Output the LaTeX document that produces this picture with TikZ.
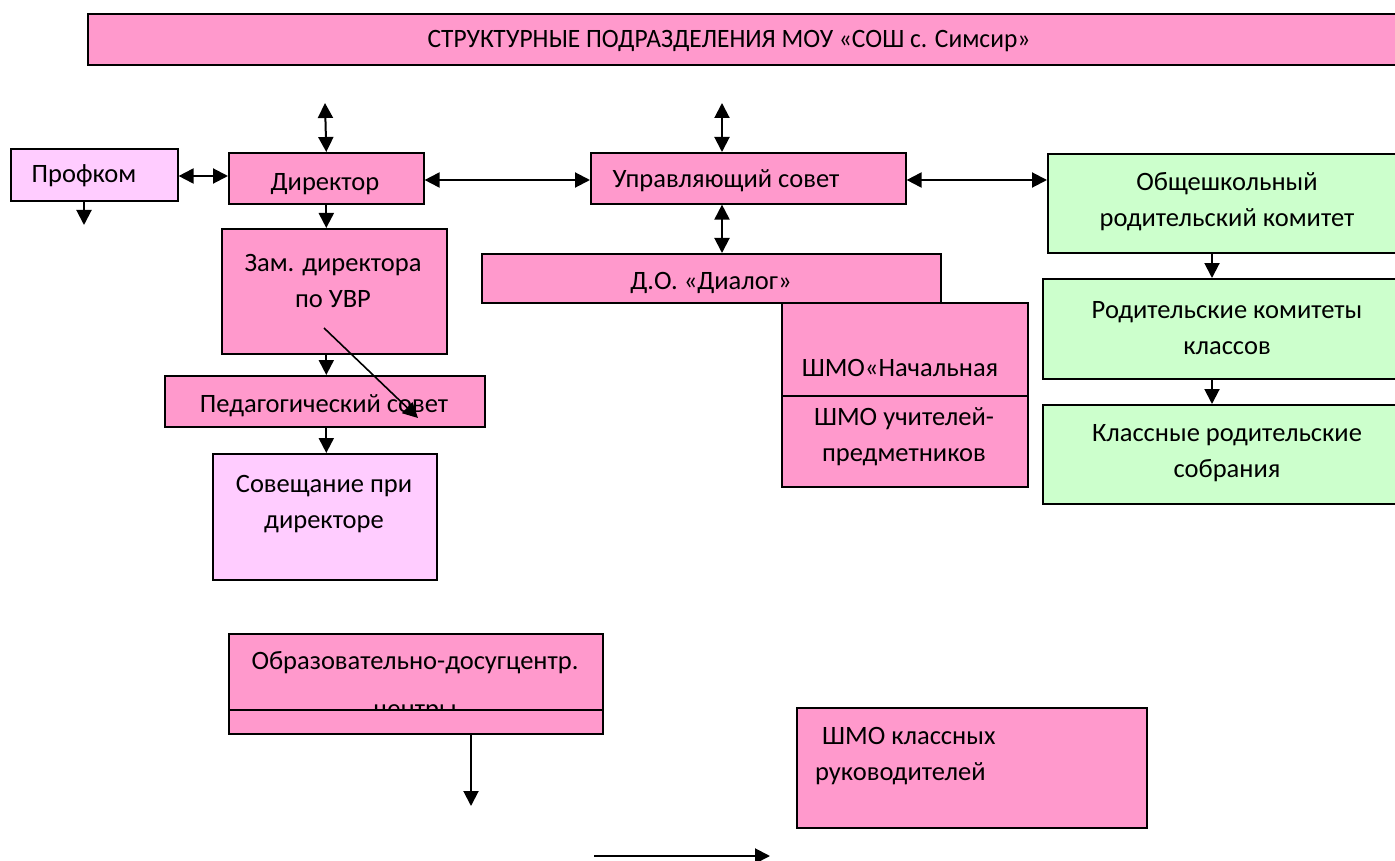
\documentclass[tikz,border=0pt]{standalone}
\usepackage{fontspec}
\setmainfont{Carlito}
\usetikzlibrary{arrows.meta}
\definecolor{pinkf}{HTML}{FF99CC}
\definecolor{lpinkf}{HTML}{FFCCFF}
\definecolor{greenf}{HTML}{CCFFCC}
\tikzset{
  box/.style={draw=black, line width=1.6pt, inner sep=0pt, anchor=north west},
  pbox/.style={box, fill=pinkf},
  lbox/.style={box, fill=lpinkf},
  gbox/.style={box, fill=greenf},
  txt/.style={inner sep=0pt, font=\fontsize{26.5}{36}\selectfont, align=center},
  conn/.style={line width=2pt, -{Triangle[length=15pt,width=15pt]}},
  dconn/.style={line width=2pt, {Triangle[length=15pt,width=15pt]}-{Triangle[length=15pt,width=15pt]}},
}
\begin{document}
\begin{tikzpicture}[x=1pt,y=-1pt]
\useasboundingbox (0,0) rectangle (1395,861);
\begin{scope}
\clip (0,0) rectangle (1395,861);
% title
\node[pbox, minimum width=1320pt, minimum height=51pt] (title) at (87,13) {};
\node[txt] (title-t) at (729,41) {\scalebox{0.96}[1]{СТРУКТУРНЫЕ ПОДРАЗДЕЛЕНИЯ МОУ «СОШ с. Симсир»}};
% left column
\node[lbox, minimum width=167pt, minimum height=52pt] (prof) at (10,148) {};
\node[txt] (prof-t) at (84,176) {Профком};
\node[pbox, minimum width=195pt, minimum height=51pt] (dir) at (228,152) {};
\node[txt] (dir-t) at (325,184) {Директор};
\node[pbox, minimum width=225pt, minimum height=125pt] (zam) at (221,228) {};
\node[txt] (zam-t) at (333,281) {Зам. директора\\по УВР};
\node[pbox, minimum width=320pt, minimum height=51pt] (ped) at (164,375) {};
\node[txt] (ped-t) at (324,406) {Педагогический совет};
\node[lbox, minimum width=224pt, minimum height=126pt] (sov) at (212,453) {};
\node[txt] (sov-t) at (324,504) {Совещание при\\директоре};
% middle
\node[pbox, minimum width=315pt, minimum height=51pt] (upr) at (590,152) {};
\node[txt] (upr-t) at (726,181) {Управляющий совет};
\node[pbox, minimum width=459pt, minimum height=49pt] (dlg) at (481,253) {};
\node[txt] (dlg-t) at (711,283) {Д.О. «Диалог»};
\node[pbox, minimum width=246pt, minimum height=93pt] (nach) at (781,302) {};
\node[txt] (nach-t) at (900,368) {ШМО«Начальная};
\node[pbox, minimum width=246pt, minimum height=91pt] (ucht) at (781,395) {};
\node[txt] (ucht-t) at (904,437) {ШМО учителей-\\предметников};
% right column
\node[gbox, minimum width=360pt, minimum height=99pt] (obsh) at (1047,153) {};
\node[txt] (obsh-t) at (1227,202) {Общешкольный\\родительский комитет};
\node[gbox, minimum width=365pt, minimum height=100pt] (rodk) at (1042,278) {};
\node[txt] (rodk-t) at (1227,328) {Родительские комитеты\\классов};
\node[gbox, minimum width=365pt, minimum height=99pt] (klas) at (1042,404) {};
\node[txt] (klas-t) at (1227,453) {Классные родительские\\собрания};
% bottom
\node[pbox, minimum width=374pt, minimum height=100pt] (obr) at (228,633) {};
\node[txt] (obr-t) at (415,663) {Образовательно-досугцентр.};
\node[txt] (obr-t2) at (415,713) {центры};
\node[pbox, minimum width=374pt, minimum height=24pt] (obr2) at (228,709) {};
\node[pbox, minimum width=350pt, minimum height=120pt] (kruk) at (796,707) {};
\node[txt, align=left, anchor=west] (kruk-t) at (815,756) {\hspace{7pt}ШМО классных\\руководителей};
% free ends
\coordinate (dirup) at (325,103);
\coordinate (uprup) at (722,103);
\coordinate (profdn) at (84,225);
\coordinate (diagA) at (324,328);
\coordinate (diagB) at (418,418);
\coordinate (obrdn) at (471,806);
\coordinate (hA) at (594,856);
\coordinate (hB) at (770,856);
% connectors
\draw[dconn] (dirup) -- (dir.north);
\draw[dconn] (uprup) -- (upr.north -| uprup);
\draw[dconn] (prof.east |- 0,176) -- (dir.west |- 0,176);
\draw[dconn] (dir.east |- 0,180) -- (upr.west |- 0,180);
\draw[dconn] (upr.east |- 0,180) -- (obsh.west |- 0,180);
\draw[dconn] (upr.south -| uprup) -- (dlg.north -| uprup);
\draw[conn] (prof.south -| profdn) -- (profdn);
\draw[conn] (dir.south) -- (zam.north -| dir.south);
\draw[conn] (zam.south -| dir.south) -- (ped.north -| dir.south);
\draw[conn] (ped.south -| dir.south) -- (sov.north -| dir.south);
\draw[conn, line width=1.6pt] (diagA) -- (diagB);
\draw[conn] (obsh.south -| 1212,0) -- (rodk.north -| 1212,0);
\draw[conn] (rodk.south -| 1212,0) -- (klas.north -| 1212,0);
\draw[conn] (obr2.south -| obrdn) -- (obrdn);
\draw[conn] (hA) -- (hB);
\end{scope}
\end{tikzpicture}
\end{document}
